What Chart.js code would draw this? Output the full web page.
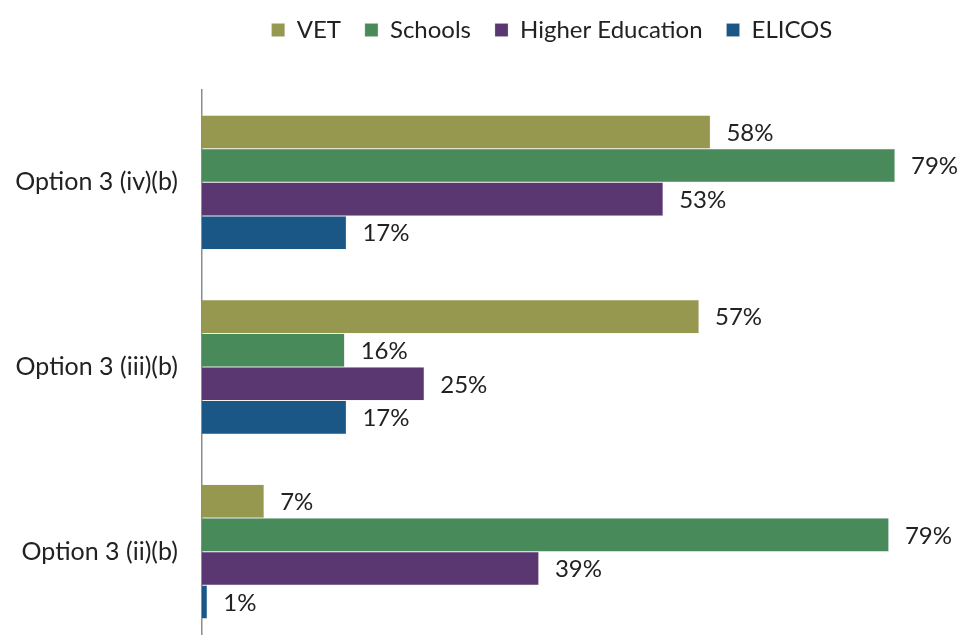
<!DOCTYPE html>
<html>
<head>
<meta charset="utf-8">
<script src="https://cdn.jsdelivr.net/npm/chart.js@4.4.1/dist/chart.umd.min.js"></script>
<style>
  html, body { margin: 0; padding: 0; background: #ffffff; overflow: hidden; }
  #wrap { width: 960px; height: 644px; position: relative; }
</style>
</head>
<body>
<div id="wrap"><canvas id="c" width="960" height="644"></canvas></div>
<script>
const categories = ['Option 3 (iv)(b)', 'Option 3 (iii)(b)', 'Option 3 (ii)(b)'];
const seriesNames = ['VET', 'Schools', 'Higher Education', 'ELICOS'];
const vetValues = [58.1, 56.8, 7.1];
const schoolsValues = [79.2, 16.3, 78.5];
const higherEdValues = [52.7, 25.4, 38.5];
const elicosValues = [16.5, 16.5, 0.6];
const seriesColors = ['#979850', '#488a5a', '#5b3772', '#1a5787'];

const FONT = 'Lato, "Open Sans", sans-serif';
const TEXT = '#222222';

const valueLabels = {
  id: 'valueLabels',
  afterDatasetsDraw(chart) {
    const ctx = chart.ctx;
    ctx.save();
    ctx.font = '24px ' + FONT;
    ctx.fillStyle = TEXT;
    ctx.textAlign = 'left';
    ctx.textBaseline = 'middle';
    chart.data.datasets.forEach((ds, i) => {
      const meta = chart.getDatasetMeta(i);
      meta.data.forEach((bar, j) => {
        ctx.fillText(Math.round(ds.data[j]) + '%', bar.x + 16, bar.y + 1);
      });
    });
    ctx.restore();
  }
};

const legendSpacer = {
  id: 'legendSpacer',
  beforeLayout(chart) {
    const lg = chart.legend;
    if (lg && !lg._spacerPatched) {
      const orig = lg.fit;
      lg.fit = function () {
        orig.call(this);
        this.height += 38;
      };
      lg._spacerPatched = true;
    }
  }
};

const allValues = [vetValues, schoolsValues, higherEdValues, elicosValues];

new Chart(document.getElementById('c'), {
  type: 'bar',
  data: {
    labels: categories,
    datasets: seriesNames.map((name, i) => ({
      label: name,
      data: allValues[i],
      backgroundColor: seriesColors[i],
      borderColor: 'rgba(200,200,200,0.6)',
      borderWidth: 0.5,
      categoryPercentage: 0.727,
      barPercentage: 1.0
    }))
  },
  options: {
    indexAxis: 'y',
    responsive: false,
    animation: false,
    layout: { padding: { top: -6, right: 58, bottom: 0, left: 0 } },
    plugins: {
      legend: {
        position: 'top',
        fullSize: false,
        labels: {
          font: { family: FONT, size: 24 },
          color: TEXT,
          boxWidth: 13,
          boxHeight: 13,
          padding: 24
        }
      },
      tooltip: { enabled: false }
    },
    scales: {
      x: {
        display: false,
        min: 0,
        max: 80
      },
      y: {
        grid: { display: false, drawTicks: false },
        border: { display: true, color: '#8c8c8c', width: 1.5 },
        ticks: {
          font: { family: FONT, size: 25 },
          color: TEXT,
          padding: 24
        },
        afterFit(scale) {
          scale.paddingTop = 0;
          scale.paddingBottom = 0;
          scale.width = 202;
        }
      }
    }
  },
  plugins: [valueLabels, legendSpacer]
});
</script>
</body>
</html>
